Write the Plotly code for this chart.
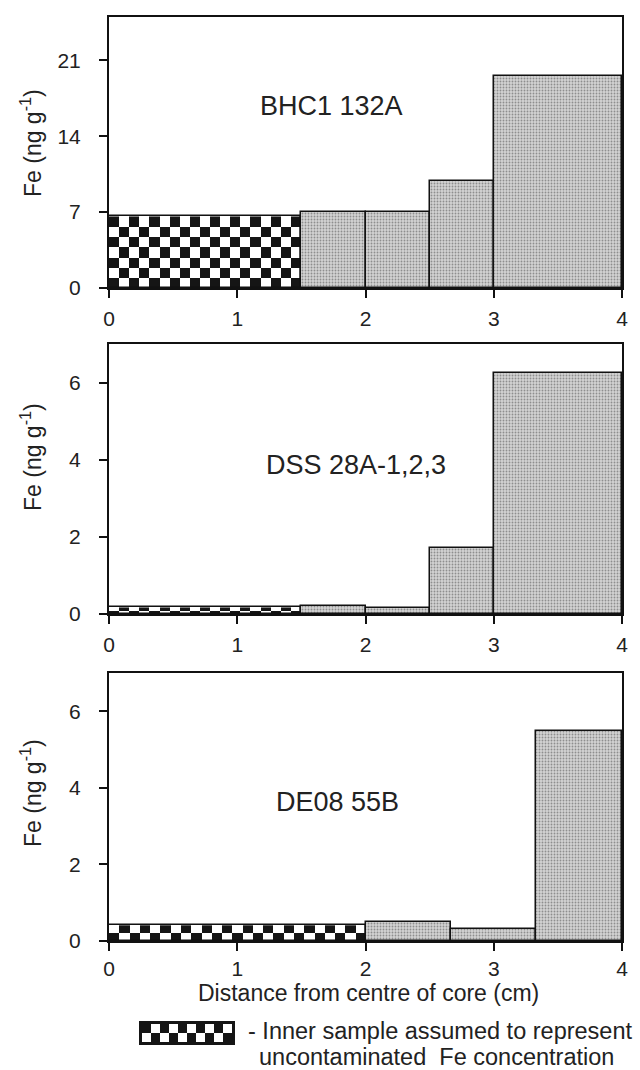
import plotly.graph_objects as go

# ---------------- data ----------------
x_ticks = [0, 1, 2, 3, 4]

# Panel 1: BHC1 132A
p1_label = "BHC1 132A"
p1_edges = [0, 1.5, 2.0, 2.5, 3.0, 4.0]
p1_values = [6.6, 7.0, 7.0, 9.9, 19.6]
p1_yticks = [0, 7, 14, 21]
p1_yrange = [0, 25]

# Panel 2: DSS 28A-1,2,3
p2_label = "DSS 28A-1,2,3"
p2_edges = [0, 1.5, 2.0, 2.5, 3.0, 4.0]
p2_values = [0.17, 0.22, 0.15, 1.7, 6.25]
p2_yticks = [0, 2, 4, 6]
p2_yrange = [0, 7]

# Panel 3: DE08 55B
p3_label = "DE08 55B"
p3_edges = [0, 2.0, 2.667, 3.333, 4.0]
p3_values = [0.41, 0.50, 0.31, 5.48]
p3_yticks = [0, 2, 4, 6]
p3_yrange = [0, 7]

y_title = "Fe (ng g<sup>-1</sup>)"
x_title = "Distance from centre of core (cm)"
legend_line1 = "- Inner sample assumed to represent"
legend_line2 = "uncontaminated  Fe concentration"

# ---------------- layout helpers ----------------
W, H = 640, 1070
FONT = "Liberation Sans, Arial, Helvetica, sans-serif"
TXT = "#222222"
X_DOM = [109 / W, 622 / W]
panels = [
    dict(label=p1_label, edges=p1_edges, vals=p1_values, yticks=p1_yticks, yrange=p1_yrange,
         top=17, bottom=288, lab_xy=(331, 106), ytitle_y=143, standoff=3),
    dict(label=p2_label, edges=p2_edges, vals=p2_values, yticks=p2_yticks, yrange=p2_yrange,
         top=344, bottom=614, lab_xy=(356, 465), ytitle_y=457, standoff=3),
    dict(label=p3_label, edges=p3_edges, vals=p3_values, yticks=p3_yticks, yrange=p3_yrange,
         top=673, bottom=941, lab_xy=(337, 802), ytitle_y=793, standoff=0),
]

GRAY_PATTERN = dict(shape=".", fgcolor="#8e8e8e", bgcolor="#d3d3d3", size=3, solidity=0.3)

fig = go.Figure()
annotations = []
layout_axes = {}

for i, p in enumerate(panels):
    n = i + 1
    xa = "x" if n == 1 else f"x{n}"
    ya = "y" if n == 1 else f"y{n}"
    edges, vals = p["edges"], p["vals"]
    ymin, ymax = p["yrange"]
    plot_h_px = p["bottom"] - p["top"]
    px_per_unit_y = plot_h_px / (ymax - ymin)
    px_per_unit_x = (X_DOM[1] - X_DOM[0]) * W / 4.0

    # checkerboard for inner sample (first bar) as heatmap
    x0, x1, h = edges[0], edges[1], vals[0]
    nx = max(2, round((x1 - x0) * px_per_unit_x / 10.2))
    ny = max(2, round(h * px_per_unit_y / 11.0))
    xe = [x0 + (x1 - x0) * k / nx for k in range(nx + 1)]
    ye = [h * k / ny for k in range(ny + 1)]
    z = [[(r + c + 1) % 2 for c in range(nx)] for r in range(ny)]
    fig.add_trace(go.Heatmap(x=xe, y=ye, z=z, zmin=0, zmax=1,
                             colorscale=[[0, "#ffffff"], [1, "#151515"]],
                             showscale=False, hoverinfo="skip",
                             xaxis=xa, yaxis=ya))
    # outline of the inner bar
    fig.add_trace(go.Bar(x=[(x0 + x1) / 2], y=[h], width=[x1 - x0],
                         marker=dict(color="rgba(0,0,0,0)", line=dict(color="#111", width=1.5)),
                         showlegend=False, hoverinfo="skip", xaxis=xa, yaxis=ya))
    # grey stippled outer bars
    centers = [(edges[k] + edges[k + 1]) / 2 for k in range(1, len(vals))]
    widths = [edges[k + 1] - edges[k] for k in range(1, len(vals))]
    fig.add_trace(go.Bar(x=centers, y=vals[1:], width=widths,
                         marker=dict(color="#d3d3d3", pattern=GRAY_PATTERN,
                                     line=dict(color="#111", width=1.5)),
                         showlegend=False, hoverinfo="skip", xaxis=xa, yaxis=ya))

    dom_y = [1 - p["bottom"] / H, 1 - p["top"] / H]
    axis_common = dict(showline=True, linewidth=2, linecolor="#111", mirror=True,
                       ticks="outside", ticklen=8, tickwidth=2, tickcolor="#111",
                       showgrid=False, zeroline=False, automargin=False,
                       tickfont=dict(family=FONT, size=21, color=TXT))
    layout_axes[f"xaxis{'' if n == 1 else n}"] = dict(
        axis_common, domain=X_DOM, range=[0, 4], tickvals=x_ticks,
        anchor=ya, ticklabelstandoff=p["standoff"])
    layout_axes[f"yaxis{'' if n == 1 else n}"] = dict(
        axis_common, domain=dom_y, range=p["yrange"], tickvals=p["yticks"],
        anchor=xa, ticklabelstandoff=14)

    lx, ly = p["lab_xy"]
    annotations.append(dict(text=p["label"], x=lx / W, y=1 - ly / H, xref="paper", yref="paper",
                            xanchor="center", yanchor="middle", showarrow=False,
                            font=dict(family=FONT, size=27, color=TXT)))
    annotations.append(dict(text=y_title, x=31 / W, y=1 - p["ytitle_y"] / H, xref="paper", yref="paper",
                            xanchor="center", yanchor="middle", showarrow=False, textangle=-90,
                            font=dict(family=FONT, size=23, color=TXT)))

# legend swatch (small checkerboard) in its own axes
sw_nx, sw_ny = 10, 2
fig.add_trace(go.Heatmap(z=[[(r + c) % 2 for c in range(sw_nx)] for r in range(sw_ny)],
                         zmin=0, zmax=1, colorscale=[[0, "#ffffff"], [1, "#151515"]],
                         showscale=False, hoverinfo="skip", xaxis="x4", yaxis="y4"))
layout_axes["xaxis4"] = dict(domain=[142 / W, 232 / W], anchor="y4",
                             range=[-0.5, sw_nx - 0.5], showticklabels=False, ticks="",
                             showgrid=False, zeroline=False, automargin=False,
                             showline=True, mirror=True, linewidth=3, linecolor="#151515")
layout_axes["yaxis4"] = dict(domain=[1 - 1042 / H, 1 - 1024 / H], anchor="x4",
                             range=[-0.5, sw_ny - 0.5], showticklabels=False, ticks="",
                             showgrid=False, zeroline=False, automargin=False,
                             showline=True, mirror=True, linewidth=3, linecolor="#151515")

annotations.append(dict(text=x_title, x=368 / W, y=1 - 993 / H, xref="paper", yref="paper",
                        xanchor="center", yanchor="middle", showarrow=False,
                        font=dict(family=FONT, size=23, color=TXT)))
annotations.append(dict(text=legend_line1, x=246 / W, y=1 - 1031 / H, xref="paper", yref="paper",
                        xanchor="left", yanchor="middle", showarrow=False,
                        font=dict(family=FONT, size=23.5, color=TXT)))
annotations.append(dict(text=legend_line2, x=257 / W, y=1 - 1057 / H, xref="paper", yref="paper",
                        xanchor="left", yanchor="middle", showarrow=False,
                        font=dict(family=FONT, size=23.5, color=TXT)))

fig.update_layout(template="none", width=W, height=H, margin=dict(l=0, r=0, t=0, b=0),
                  paper_bgcolor="white", plot_bgcolor="white",
                  barmode="overlay", bargap=0, showlegend=False,
                  font=dict(family=FONT, color=TXT),
                  annotations=annotations, **layout_axes)

fig.write_html("out.html", config={"displayModeBar": False},
               post_script="document.body.style.margin='0';document.body.style.overflow='hidden';")
